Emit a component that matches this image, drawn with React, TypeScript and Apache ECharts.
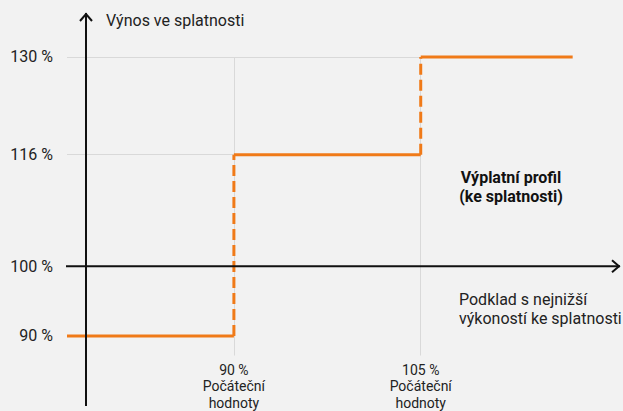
import React, { useEffect, useRef } from "react";
import * as echarts from "echarts";

// Payout levels (% of nominal) and barrier levels (% of initial values)
const payoutLevels = [90, 116, 130];
const barrierLevels = [90, 105];
const yTickValues = [90, 100, 116, 130];
const xTickValues = [90, 105];
const xTickLabels = ["90 %\nPočáteční\nhodnoty", "105 %\nPočáteční\nhodnoty"];
const xRange = [76.6, 121];
const yRange = [87.2, 130.43];
const profileStart = 76.6;
const profileEnd = 117.2;
const axisCrossY = 100;

const ORANGE = "#f07a18";
const FONT = "Roboto";
const FS = 16;

export default function App() {
  const ref = useRef<HTMLDivElement>(null);
  useEffect(() => {
    if (!ref.current) return;
    const chart = echarts.init(ref.current, undefined, { renderer: "svg" });
    const xBreaks = [profileStart, ...barrierLevels, profileEnd];
    const solid = payoutLevels.map((lvl, i) => ({
      type: "line",
      data: [[xBreaks[i], lvl], [xBreaks[i + 1], lvl]],
      symbol: "none",
      lineStyle: { color: ORANGE, width: 3 },
      z: 5,
      silent: true,
    }));
    const dashed = barrierLevels.map((b, i) => ({
      type: "line",
      data: [[b, payoutLevels[i]], [b, payoutLevels[i + 1]]],
      symbol: "none",
      lineStyle: { color: ORANGE, width: 3, type: [11, 5] },
      z: 5,
      silent: true,
    }));
    const topLevel = payoutLevels[payoutLevels.length - 1];
    const lastBarrier = barrierLevels[barrierLevels.length - 1];
    const gridLines = {
      type: "line",
      data: [],
      z: 1,
      silent: true,
      markLine: {
        silent: true,
        symbol: "none",
        label: { show: false },
        lineStyle: { color: "#d9d9d9", width: 1, type: "solid" },
        data: [
          ...payoutLevels.slice(1).map((lvl) => [
            { coord: [xRange[0], lvl] },
            { coord: [lastBarrier, lvl] },
          ]),
          ...barrierLevels.map((b) => [
            { coord: [b, topLevel] },
            { coord: [b, yRange[0]] },
          ]),
        ],
      },
    };
    const option: any = {
      animation: false,
      backgroundColor: "#f2f2f2",
      textStyle: { fontFamily: FONT },
      grid: { left: 67, right: 3, top: 54, bottom: 54 },
      xAxis: {
        type: "value",
        min: xRange[0],
        max: xRange[1],
        axisLine: { show: false },
        axisTick: { show: false },
        splitLine: { show: false },
        axisLabel: {
          customValues: xTickValues,
          formatter: (v: number) => xTickLabels[xTickValues.indexOf(Math.round(v))] ?? "",
          color: "#222",
          fontSize: 14,
          lineHeight: 16.5,
          margin: 6,
          fontFamily: FONT,
        },
      },
      yAxis: {
        type: "value",
        min: yRange[0],
        max: yRange[1],
        axisLine: { show: false },
        axisTick: { show: false },
        splitLine: { show: false },
        axisLabel: {
          customValues: yTickValues,
          formatter: (v: number) => `${Math.round(v)} %`,
          color: "#222",
          fontSize: FS,
          margin: 14,
          fontFamily: FONT,
        },
      },
      series: [gridLines, ...solid, ...dashed],
    };
    chart.setOption(option);

    const [, yCross] = chart.convertToPixel({ gridIndex: 0 }, [xRange[0], axisCrossY]) as number[];
    const axisX = 86;
    const xLeft = 66;
    const xRight = 620;
    const yTop = 13;
    const yBottom = 406;
    const axisStyle = { stroke: "#111", lineWidth: 2 };
    chart.setOption({
      graphic: [
        { type: "line", z: 50, shape: { x1: axisX, y1: yTop, x2: axisX, y2: yBottom }, style: axisStyle },
        { type: "polyline", z: 50, shape: { points: [[axisX - 6, yTop + 8], [axisX, yTop + 1], [axisX + 6, yTop + 8]] }, style: { ...axisStyle, fill: null } },
        { type: "line", z: 50, shape: { x1: xLeft, y1: yCross, x2: xRight, y2: yCross }, style: axisStyle },
        { type: "polyline", z: 50, shape: { points: [[xRight - 8, yCross - 6], [xRight - 1, yCross], [xRight - 8, yCross + 6]] }, style: { ...axisStyle, fill: null } },
        { type: "text", z: 50, x: 106, y: 20, style: { text: "Výnos ve splatnosti", fontSize: FS, fontFamily: FONT, fill: "#222", verticalAlign: "middle" } },
        { type: "text", z: 50, x: 511, y: 187, style: { text: "Výplatní profil\n(ke splatnosti)", fontSize: FS, fontWeight: "bold", lineHeight: 19, fontFamily: FONT, fill: "#111", align: "center", verticalAlign: "middle" } },
        { type: "text", z: 50, x: 459, y: 309, style: { text: "Podklad s nejnižší\nvýkoností ke splatnosti", fontSize: FS, lineHeight: 19, fontFamily: FONT, fill: "#222", align: "left", verticalAlign: "middle" } },
      ],
    });
    return () => chart.dispose();
  }, []);
  return <div ref={ref} style={{ position: "absolute", left: 0, top: 0, width: 623, height: 411 }} />;
}
